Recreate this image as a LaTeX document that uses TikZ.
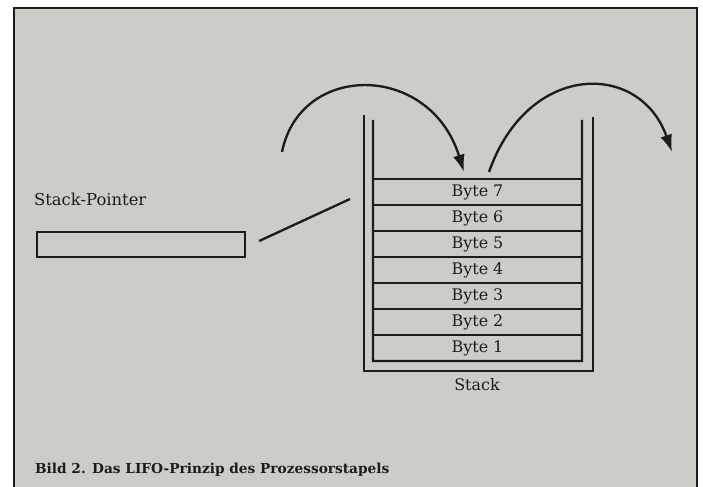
\documentclass[tikz,border=0pt]{standalone}
\usepackage{fontspec}
\setmainfont{DejaVu Serif}
\usetikzlibrary{arrows.meta,positioning}
\definecolor{paper}{RGB}{205,205,200}
\definecolor{ink}{RGB}{28,28,28}

\begin{document}
\begin{tikzpicture}[x=0.03cm,y=-0.03cm,
  wall/.style={ink,line width=2pt},
  bytecell/.style={draw=ink,line width=2pt,minimum width=6.27cm,minimum height=0.78cm,
    inner sep=0pt,outer sep=0pt,text=ink,font=\fontsize{13.6}{15}\selectfont},
  move/.style={ink,line width=2pt,-{Latex[length=5.2mm,width=3.6mm]}}]
\useasboundingbox (0,0) rectangle (703,487);
\fill[white] (0,0) rectangle (703,487);
\fill[paper] (14,8) rectangle (697,487);
\draw[ink,line width=1.6pt] (14,487) -- (14,8) -- (697,8) -- (697,487);
% stack cells, Byte 1 at the bottom
\node[bytecell] (b1) at (477.5,348) {Byte 1};
\foreach \i [count=\j] in {2,...,7} { \node[bytecell,above=0pt of b\j] (b\i) {Byte \i}; }
\draw[wall] (373,120) -- (b1.south west) -- (b1.south east) -- (582,120);
\draw[wall] (364,115) -- (364,371) -- (593,371) -- (593,117);
\node[text=ink,font=\fontsize{13.6}{15}\selectfont] (stk) at (477,385) {Stack};
% stack pointer
\node[draw=ink,line width=2pt,minimum width=6.24cm,minimum height=0.75cm,inner sep=0pt] (sp) at (141,244.5) {};
\node[anchor=base west,text=ink,font=\fontsize{14}{15}\selectfont] (splabel) at (30,206) {Stack-Pointer};
\coordinate (sptip) at (350,199);
\draw[wall] ([shift={(13,-3.5)}]sp.east) -- (sptip);
% push and pop
\coordinate (pushfrom) at (282,152);
\coordinate (pushto) at (464,172);
\coordinate (popfrom) at (489,172);
\coordinate (popto) at (672,152);
\draw[move] (pushfrom) .. controls (300,62) and (430,62) .. (pushto);
\draw[move] (popfrom) .. controls (528,61) and (640,61) .. (popto);
\node[anchor=base west,text=ink,font=\fontsize{11.7}{14}\selectfont\bfseries] (caption) at (31,473)
  {Bild 2. Das LIFO-Prinzip des Prozessorstapels};
\end{tikzpicture}
\end{document}
